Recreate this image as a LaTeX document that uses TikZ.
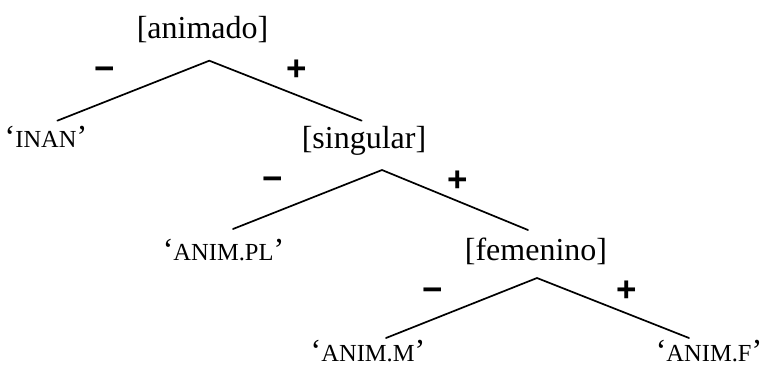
\documentclass[tikz,border=0pt]{standalone}
\usepackage{fontspec}
\setmainfont{Liberation Serif}
\newfontfamily\signfont{Liberation Sans}
\tikzset{
  x=1pt, y=-1pt,
  feat/.style={anchor=base, inner sep=0pt, font=\fontsize{32}{38}\selectfont},
  leaf/.style={anchor=base, inner sep=0pt, font=\fontsize{32}{38}\selectfont},
  sign/.style={anchor=base, inner sep=0pt, font=\signfont\bfseries\fontsize{35}{40}\selectfont},
  branch/.style={line width=1.7pt, line cap=round, line join=miter}
}
\newcommand{\sck}[1]{{\fontsize{24.5}{28}\selectfont #1}}
\begin{document}
\begin{tikzpicture}
\useasboundingbox (0,0) rectangle (763,369);
% feature nodes
\node[feat] (anim) at (202.5,39) {[animado]};
\node[feat] (sing) at (364,148) {[singular]};
\node[feat] (fem) at (536,260) {[femenino]};
% leaves
\node[leaf] (inan) at (46,147) {‘\sck{INAN}’};
\node[leaf] (pl) at (223.5,260) {‘\sck{ANIM.PL}’};
\node[leaf] (m) at (368,361) {‘\sck{ANIM.M}’};
\node[leaf] (f) at (709,361) {‘\sck{ANIM.F}’};
% branch points
\coordinate (a1) at (209.3,60.7);
\coordinate (l1) at (57.3,120.7);
\coordinate (r1) at (361.7,120.7);
\coordinate (a2) at (382,170);
\coordinate (l2) at (233,229);
\coordinate (r2) at (528,230);
\coordinate (a3) at (537,278);
\coordinate (l3) at (386,338);
\coordinate (r3) at (689,338);
\draw[branch] (l1) -- (a1) -- (r1);
\draw[branch] (l2) -- (a2) -- (r2);
\draw[branch] (l3) -- (a3) -- (r3);
% signs
\node[sign] (m1) at (105,80.2) {−};
\node[sign] (p1) at (297,80.2) {+};
\node[sign] (m2) at (273,190.2) {−};
\node[sign] (p2) at (458,191.2) {+};
\node[sign] (m3) at (433,301.2) {−};
\node[sign] (p3) at (627,301.2) {+};
\end{tikzpicture}
\end{document}
